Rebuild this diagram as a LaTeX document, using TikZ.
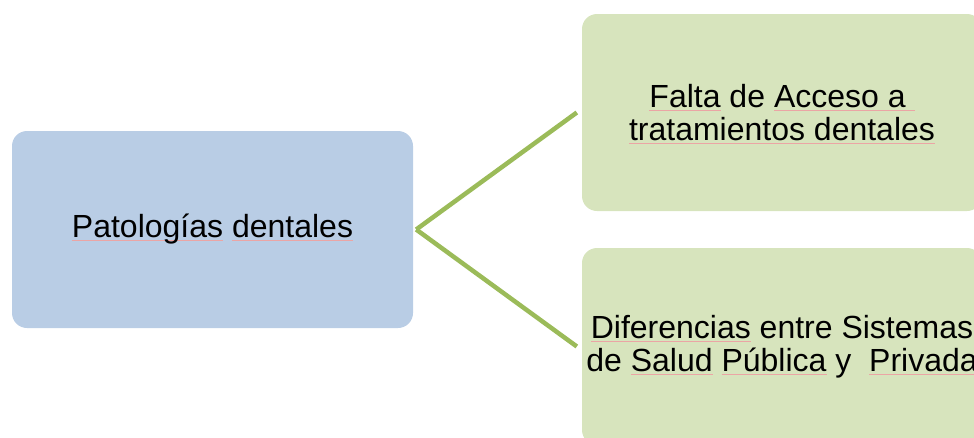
\documentclass[tikz,border=0pt]{standalone}
\usepackage{fontspec}
\setmainfont{Liberation Sans}
\usepackage{xcolor}
\usetikzlibrary{positioning}

\definecolor{rootblue}{HTML}{B9CDE5}
\definecolor{leafgreen}{HTML}{D7E4BD}
\definecolor{linkgreen}{HTML}{9BBB59}
\definecolor{spellred}{HTML}{EBA5A5}

% spell-check mark under a word
\newcommand{\spell}[1]{\leavevmode\setbox0\hbox{#1}\rlap{\smash{\color{spellred}\rule[-3pt]{\wd0}{0.7pt}}}\box0\relax}

\tikzset{
    topic/.style={rounded corners=15pt, minimum width=401pt, minimum height=197pt,
        inner sep=0pt, align=center, font=\fontsize{32}{33}\selectfont},
    branch/.style={draw=linkgreen, line width=4.5pt}
}

\begin{document}
\begin{tikzpicture}[x=1pt, y=-1pt]
    \useasboundingbox (0, 0) rectangle (974, 437);
    \clip (0, 0) rectangle (974, 437);

    % Root
    \node [topic, fill=rootblue] (patologias) at (212.5, 229.5)
        {\spell{Patologías} \spell{dentales}};

    % Leaves
    \node [topic, fill=leafgreen, minimum width=400pt] (acceso) at (782, 112.5)
        {\spell{Falta} de \spell{Acceso a\ }\\ \spell{tratamientos dentales}};
    \node [topic, fill=leafgreen, minimum width=400pt] (sistemas) at (782, 346.5)
        {\spell{Diferencias} entre Sistemas\\ de \spell{Salud} \spell{Pública} y\ \ \spell{Privada}};

    % Links
    \draw [branch] ([xshift=3pt]patologias.east) -- ([xshift=-5pt]acceso.west);
    \draw [branch] ([xshift=3pt]patologias.east) -- ([xshift=-5pt]sistemas.west);
\end{tikzpicture}
\end{document}
